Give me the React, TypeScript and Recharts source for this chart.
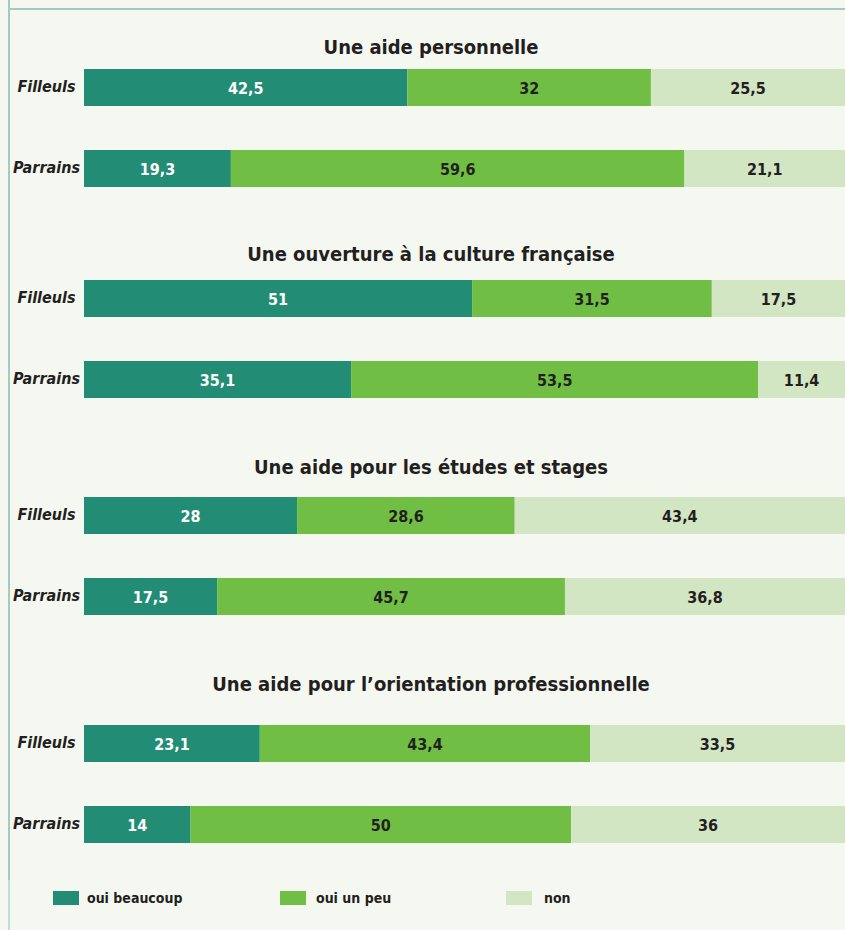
import React from 'react';
import { BarChart, Bar, XAxis, YAxis, LabelList } from 'recharts';

const titles = [
  'Une aide personnelle',
  'Une ouverture à la culture française',
  'Une aide pour les études et stages',
  'Une aide pour l’orientation professionnelle',
];
const rows = ['Filleuls', 'Parrains'];
const beaucoup = [42.5, 19.3, 51, 35.1, 28, 17.5, 23.1, 14];
const unPeu = [32, 59.6, 31.5, 53.5, 28.6, 45.7, 43.4, 50];
const non = [25.5, 21.1, 17.5, 11.4, 43.4, 36.8, 33.5, 36];
const seriesNames = ['oui beaucoup', 'oui un peu', 'non'];

const KEYS = ['beaucoup', 'unPeu', 'non'];
const COLORS = ['#228c74', '#70bf44', '#d3e6c4'];
const LABEL_COLORS = ['#ffffff', '#231f20', '#231f20'];
const FONT = "'DejaVu Sans Condensed', 'DejaVu Sans', sans-serif";
const BG = '#f5f8f1';

const groupTops = [47, 258, 475, 703];
const titleCenters = [47, 254, 467, 684];
const legendBoxX = [53, 280, 506];
const legendTextX = [87, 316, 544];

function groupData(g: number) {
  return rows.map((r, i) => ({
    row: r,
    beaucoup: beaucoup[g * 2 + i],
    unPeu: unPeu[g * 2 + i],
    non: non[g * 2 + i],
  }));
}

const RowTick = (props: any) => {
  const { y, payload } = props;
  return (
    <text
      x={46.5}
      y={y}
      dy={4.5}
      textAnchor="middle"
      fontFamily={FONT}
      fontStyle="italic"
      fontWeight="bold"
      fontSize={16}
      fill="#231f20"
    >
      {payload.value}
    </text>
  );
};

const makeLabel = (color: string) => (props: any) => {
  const { x, y, width, height, value } = props;
  return (
    <text
      x={Number(x) + Number(width) / 2}
      y={Number(y) + Number(height) / 2}
      dy={6}
      textAnchor="middle"
      fontFamily={FONT}
      fontWeight="bold"
      fontSize={16}
      fill={color}
    >
      {String(value).replace('.', ',')}
    </text>
  );
};

export default function App() {
  return (
    <div
      style={{
        position: 'absolute',
        left: 0,
        top: 0,
        width: 845,
        height: 930,
        background: BG,
        overflow: 'hidden',
        fontFamily: FONT,
      }}
    >
      {/* frame lines */}
      <div style={{ position: 'absolute', left: 8, top: 0, width: 2, height: 880, background: '#a3ccc0' }} />
      <div style={{ position: 'absolute', left: 8, top: 880, width: 2, height: 50, background: '#c3ddd4' }} />
      <div style={{ position: 'absolute', left: 8, top: 8, width: 837, height: 2, background: '#a3ccc0' }} />

      {titles.map((t, g) => (
        <div
          key={'t' + g}
          style={{
            position: 'absolute',
            left: 431,
            top: titleCenters[g] - 9.6,
            transform: 'translateX(-50%)',
            whiteSpace: 'nowrap',
            fontSize: 20,
            lineHeight: '20px',
            fontWeight: 'bold',
            color: '#231f20',
          }}
        >
          {t}
        </div>
      ))}

      {titles.map((t, g) => (
        <div key={'c' + g} style={{ position: 'absolute', left: 0, top: groupTops[g] }}>
          <BarChart
            width={845}
            height={162}
            data={groupData(g)}
            layout="vertical"
            margin={{ top: 0, right: 0, bottom: 0, left: 0 }}
            barSize={37}
          >
            <XAxis type="number" domain={[0, 100]} hide />
            <YAxis
              type="category"
              dataKey="row"
              width={84}
              axisLine={false}
              tickLine={false}
              tick={<RowTick />}
            />
            {KEYS.map((k, i) => (
              <Bar key={k} dataKey={k} stackId="s" fill={COLORS[i]} isAnimationActive={false}>
                <LabelList dataKey={k} content={makeLabel(LABEL_COLORS[i])} />
              </Bar>
            ))}
          </BarChart>
        </div>
      ))}

      {seriesNames.map((n, i) => (
        <React.Fragment key={'l' + i}>
          <div
            style={{
              position: 'absolute',
              left: legendBoxX[i],
              top: 891,
              width: 26,
              height: 14,
              background: COLORS[i],
            }}
          />
          <div
            style={{
              position: 'absolute',
              left: legendTextX[i],
              top: 888,
              fontSize: 14,
              lineHeight: '20px',
              fontWeight: 'bold',
              color: '#231f20',
              whiteSpace: 'nowrap',
            }}
          >
            {n}
          </div>
        </React.Fragment>
      ))}
    </div>
  );
}
